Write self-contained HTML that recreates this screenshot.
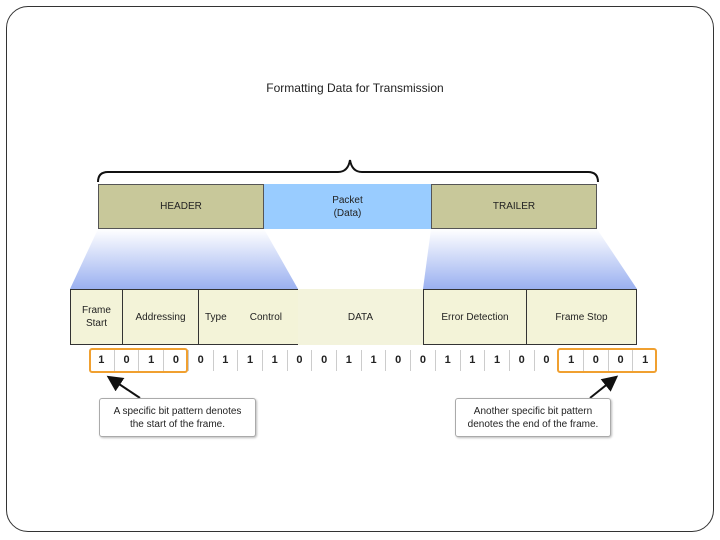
<!DOCTYPE html>
<html><head><style>
body{margin:0;width:720px;height:540px;background:#fff;font-family:"Liberation Sans",sans-serif;position:relative;overflow:hidden}
.a{position:absolute;box-sizing:border-box;display:flex;align-items:center;justify-content:center;text-align:center;font-size:10px;color:#222;line-height:13px}
</style></head><body>
<div style="position:absolute;left:6px;top:6px;width:708px;height:526px;border:1px solid #333;border-radius:22px;box-sizing:border-box"></div>
<div class="a" style="left:200px;top:79px;width:310px;height:18px;font-size:12px">Formatting Data for Transmission</div>
<svg width="720" height="540" style="position:absolute;left:0;top:0">
<defs>
<linearGradient id="g" x1="0" y1="0" x2="0" y2="1"><stop offset="0" stop-color="#fff"/><stop offset="1" stop-color="#9ab0f0"/></linearGradient>
<marker id="m" markerWidth="8" markerHeight="8" refX="6" refY="4" orient="auto"><path d="M0,0L8,4L0,8z" fill="#111"/></marker>
</defs>
<path d="M98,182 Q98,172 108,172 L338,172 Q348,172 350,160 Q352,172 362,172 L588,172 Q598,172 598,182" fill="none" stroke="#111" stroke-width="2"/>
<polygon points="98,229 264,229 298,289 70,289" fill="url(#g)"/>
<polygon points="431,229 597,229 637,289 423,289" fill="url(#g)"/>
<line x1="140" y1="398" x2="110" y2="378" stroke="#111" stroke-width="2" marker-end="url(#m)"/>
<line x1="590" y1="398" x2="615" y2="378" stroke="#111" stroke-width="2" marker-end="url(#m)"/>
</svg>
<div class="a" style="left:98px;top:184px;width:166px;height:45px;background:#c8c89a;border:1px solid #555">HEADER</div>
<div class="a" style="left:264px;top:184px;width:167px;height:45px;background:#99ccff">Packet<br>(Data)</div>
<div class="a" style="left:431px;top:184px;width:166px;height:45px;background:#c8c89a;border:1px solid #555">TRAILER</div>
<div class="a" style="left:70px;top:289px;width:53px;height:56px;background:#f3f3d8;border:1px solid #333">Frame<br>Start</div>
<div class="a" style="left:122px;top:289px;width:77px;height:56px;background:#f3f3d8;border:1px solid #333">Addressing</div>
<div class="a" style="left:198px;top:289px;width:101px;height:56px;background:#f3f3d8;border:1px solid #333;justify-content:space-between;padding:0 16px 0 6px"><span>Type</span><span>Control</span></div>
<div class="a" style="left:298px;top:289px;width:125px;height:56px;background:#f3f3dc">DATA</div>
<div class="a" style="left:423px;top:289px;width:104px;height:56px;background:#f3f3d8;border:1px solid #333">Error Detection</div>
<div class="a" style="left:526px;top:289px;width:111px;height:56px;background:#f3f3d8;border:1px solid #333">Frame Stop</div>
<div id="bits"></div>
<div style="position:absolute;left:89px;top:348px;width:99px;height:25px;border:2.5px solid #f0a030;border-radius:3px;box-sizing:border-box"></div>
<div style="position:absolute;left:557px;top:348px;width:100px;height:25px;border:2.5px solid #f0a030;border-radius:3px;box-sizing:border-box"></div>
<div class="a" style="left:99px;top:398px;width:157px;height:39px;border:1px solid #aaa;border-radius:3px;background:#fff;box-shadow:1px 1px 2px #bbb">A specific bit pattern denotes<br>the start of the frame.</div>
<div class="a" style="left:455px;top:398px;width:156px;height:39px;border:1px solid #aaa;border-radius:3px;background:#fff;box-shadow:1px 1px 2px #bbb">Another specific bit pattern<br>denotes the end of the frame.</div>
<script>
var b="10100111001100111001001",h="",w=24.7;
for(var i=0;i<23;i++){h+='<div class="a" style="left:'+(89+i*w)+'px;top:350px;width:'+w+'px;height:21px;font-size:11px;font-weight:bold;'+(i>0?'border-left:1px solid #ccc':'')+'">'+b[i]+'</div>';}
document.getElementById("bits").innerHTML=h;
</script>
</body></html>
